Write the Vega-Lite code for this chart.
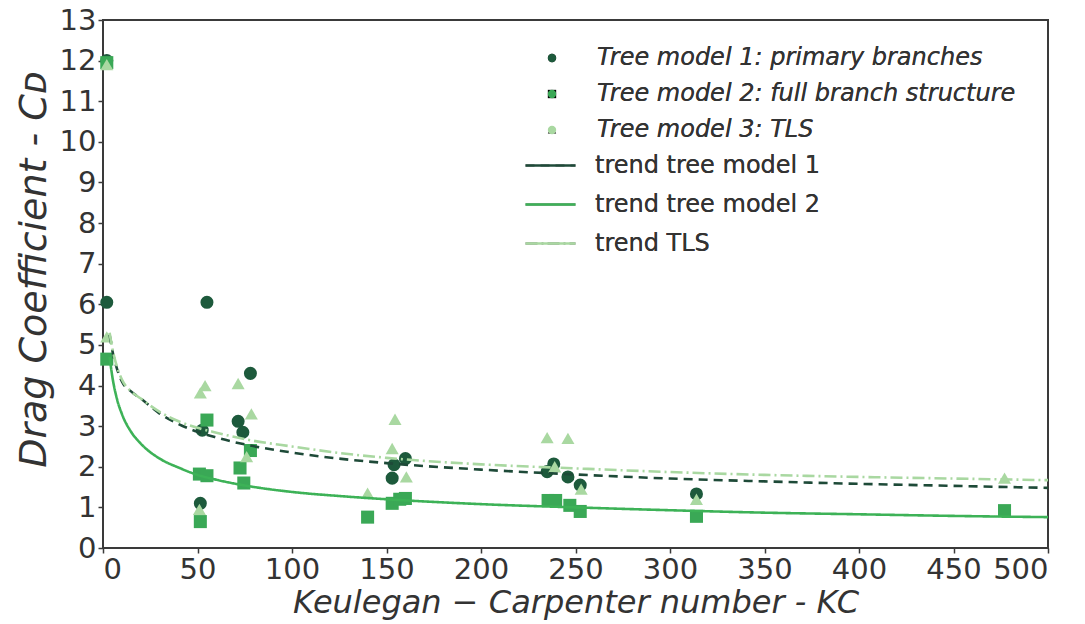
{
  "$schema": "https://vega.github.io/schema/vega-lite/v6.json",
  "width": 945,
  "height": 528,
  "autosize": "none",
  "padding": {"left": 103, "top": 20, "right": 37, "bottom": 76},
  "background": "white",
  "config": {
    "font": "DejaVu Sans",
    "view": {"stroke": "#3a3a3a", "strokeWidth": 2},
    "axis": {
      "grid": false,
      "domain": false,
      "tickColor": "#3a3a3a",
      "tickSize": 5,
      "tickWidth": 1.5,
      "labelFont": "DejaVu Sans",
      "labelFontSize": 29,
      "labelColor": "#333333",
      "titleFont": "DejaVu Sans",
      "titleFontStyle": "italic",
      "titleFontWeight": "normal",
      "titleColor": "#333333"
    },
    "legend": {
      "padding": 0,
      "labelFont": "DejaVu Sans",
      "labelFontSize": 24,
      "labelColor": "#333333",
      "labelLimit": 700,
      "rowPadding": 12
    }
  },
  "datasets": {
    "measured": [
      {"KC": 2, "CD": 12.0, "series": "Tree model 1: primary branches"},
      {"KC": 2, "CD": 6.05, "series": "Tree model 1: primary branches"},
      {"KC": 51.5, "CD": 1.1, "series": "Tree model 1: primary branches"},
      {"KC": 52.5, "CD": 2.9, "series": "Tree model 1: primary branches"},
      {"KC": 55, "CD": 6.05, "series": "Tree model 1: primary branches"},
      {"KC": 71.5, "CD": 3.12, "series": "Tree model 1: primary branches"},
      {"KC": 74, "CD": 2.85, "series": "Tree model 1: primary branches"},
      {"KC": 78, "CD": 4.3, "series": "Tree model 1: primary branches"},
      {"KC": 153, "CD": 1.72, "series": "Tree model 1: primary branches"},
      {"KC": 154, "CD": 2.05, "series": "Tree model 1: primary branches"},
      {"KC": 160, "CD": 2.2, "series": "Tree model 1: primary branches"},
      {"KC": 235, "CD": 1.88, "series": "Tree model 1: primary branches"},
      {"KC": 238.5, "CD": 2.07, "series": "Tree model 1: primary branches"},
      {"KC": 246, "CD": 1.75, "series": "Tree model 1: primary branches"},
      {"KC": 252.5, "CD": 1.55, "series": "Tree model 1: primary branches"},
      {"KC": 314, "CD": 1.33, "series": "Tree model 1: primary branches"},
      {"KC": 2, "CD": 11.95, "series": "Tree model 2: full branch structure"},
      {"KC": 2, "CD": 4.65, "series": "Tree model 2: full branch structure"},
      {"KC": 51.5, "CD": 0.65, "series": "Tree model 2: full branch structure"},
      {"KC": 51, "CD": 1.82, "series": "Tree model 2: full branch structure"},
      {"KC": 55, "CD": 1.78, "series": "Tree model 2: full branch structure"},
      {"KC": 55, "CD": 3.15, "series": "Tree model 2: full branch structure"},
      {"KC": 72.5, "CD": 1.97, "series": "Tree model 2: full branch structure"},
      {"KC": 74.5, "CD": 1.6, "series": "Tree model 2: full branch structure"},
      {"KC": 78, "CD": 2.4, "series": "Tree model 2: full branch structure"},
      {"KC": 140, "CD": 0.76, "series": "Tree model 2: full branch structure"},
      {"KC": 153, "CD": 1.1, "series": "Tree model 2: full branch structure"},
      {"KC": 157, "CD": 1.2, "series": "Tree model 2: full branch structure"},
      {"KC": 160, "CD": 1.22, "series": "Tree model 2: full branch structure"},
      {"KC": 235.5, "CD": 1.17, "series": "Tree model 2: full branch structure"},
      {"KC": 239.5, "CD": 1.17, "series": "Tree model 2: full branch structure"},
      {"KC": 247, "CD": 1.05, "series": "Tree model 2: full branch structure"},
      {"KC": 252.5, "CD": 0.9, "series": "Tree model 2: full branch structure"},
      {"KC": 314, "CD": 0.78, "series": "Tree model 2: full branch structure"},
      {"KC": 477, "CD": 0.92, "series": "Tree model 2: full branch structure"},
      {"KC": 2, "CD": 11.9, "series": "Tree model 3: TLS"},
      {"KC": 2, "CD": 5.2, "series": "Tree model 3: TLS"},
      {"KC": 51, "CD": 0.95, "series": "Tree model 3: TLS"},
      {"KC": 51.5, "CD": 3.82, "series": "Tree model 3: TLS"},
      {"KC": 54, "CD": 4.0, "series": "Tree model 3: TLS"},
      {"KC": 71.5, "CD": 4.05, "series": "Tree model 3: TLS"},
      {"KC": 76, "CD": 2.25, "series": "Tree model 3: TLS"},
      {"KC": 78.5, "CD": 3.3, "series": "Tree model 3: TLS"},
      {"KC": 140, "CD": 1.35, "series": "Tree model 3: TLS"},
      {"KC": 153, "CD": 2.45, "series": "Tree model 3: TLS"},
      {"KC": 154.5, "CD": 3.17, "series": "Tree model 3: TLS"},
      {"KC": 160.5, "CD": 1.75, "series": "Tree model 3: TLS"},
      {"KC": 235, "CD": 2.72, "series": "Tree model 3: TLS"},
      {"KC": 239, "CD": 2.0, "series": "Tree model 3: TLS"},
      {"KC": 246, "CD": 2.7, "series": "Tree model 3: TLS"},
      {"KC": 253, "CD": 1.45, "series": "Tree model 3: TLS"},
      {"KC": 314, "CD": 1.2, "series": "Tree model 3: TLS"},
      {"KC": 477, "CD": 1.72, "series": "Tree model 3: TLS"}
    ],
    "trends": [
      {"KC": 3.5, "CD": 5.25, "series": "trend tree model 1"},
      {"KC": 5, "CD": 4.85, "series": "trend tree model 1"},
      {"KC": 7.5, "CD": 4.4, "series": "trend tree model 1"},
      {"KC": 10, "CD": 4.1, "series": "trend tree model 1"},
      {"KC": 15, "CD": 3.85, "series": "trend tree model 1"},
      {"KC": 20, "CD": 3.68, "series": "trend tree model 1"},
      {"KC": 30, "CD": 3.31, "series": "trend tree model 1"},
      {"KC": 40, "CD": 3.05, "series": "trend tree model 1"},
      {"KC": 50, "CD": 2.86, "series": "trend tree model 1"},
      {"KC": 60, "CD": 2.72, "series": "trend tree model 1"},
      {"KC": 75, "CD": 2.55, "series": "trend tree model 1"},
      {"KC": 100, "CD": 2.35, "series": "trend tree model 1"},
      {"KC": 125, "CD": 2.2, "series": "trend tree model 1"},
      {"KC": 150, "CD": 2.09, "series": "trend tree model 1"},
      {"KC": 200, "CD": 1.93, "series": "trend tree model 1"},
      {"KC": 250, "CD": 1.81, "series": "trend tree model 1"},
      {"KC": 300, "CD": 1.71, "series": "trend tree model 1"},
      {"KC": 350, "CD": 1.64, "series": "trend tree model 1"},
      {"KC": 400, "CD": 1.58, "series": "trend tree model 1"},
      {"KC": 450, "CD": 1.53, "series": "trend tree model 1"},
      {"KC": 500, "CD": 1.48, "series": "trend tree model 1"},
      {"KC": 3.5, "CD": 4.7, "series": "trend tree model 2"},
      {"KC": 5, "CD": 4.2, "series": "trend tree model 2"},
      {"KC": 7.5, "CD": 3.65, "series": "trend tree model 2"},
      {"KC": 10, "CD": 3.3, "series": "trend tree model 2"},
      {"KC": 15, "CD": 2.85, "series": "trend tree model 2"},
      {"KC": 20, "CD": 2.57, "series": "trend tree model 2"},
      {"KC": 30, "CD": 2.2, "series": "trend tree model 2"},
      {"KC": 40, "CD": 1.98, "series": "trend tree model 2"},
      {"KC": 50, "CD": 1.8, "series": "trend tree model 2"},
      {"KC": 60, "CD": 1.68, "series": "trend tree model 2"},
      {"KC": 75, "CD": 1.54, "series": "trend tree model 2"},
      {"KC": 100, "CD": 1.38, "series": "trend tree model 2"},
      {"KC": 125, "CD": 1.28, "series": "trend tree model 2"},
      {"KC": 150, "CD": 1.2, "series": "trend tree model 2"},
      {"KC": 200, "CD": 1.08, "series": "trend tree model 2"},
      {"KC": 250, "CD": 1.0, "series": "trend tree model 2"},
      {"KC": 300, "CD": 0.93, "series": "trend tree model 2"},
      {"KC": 350, "CD": 0.87, "series": "trend tree model 2"},
      {"KC": 400, "CD": 0.83, "series": "trend tree model 2"},
      {"KC": 450, "CD": 0.79, "series": "trend tree model 2"},
      {"KC": 500, "CD": 0.76, "series": "trend tree model 2"},
      {"KC": 3.5, "CD": 5.3, "series": "trend TLS"},
      {"KC": 5, "CD": 4.9, "series": "trend TLS"},
      {"KC": 7.5, "CD": 4.45, "series": "trend TLS"},
      {"KC": 10, "CD": 4.15, "series": "trend TLS"},
      {"KC": 15, "CD": 3.85, "series": "trend TLS"},
      {"KC": 20, "CD": 3.68, "series": "trend TLS"},
      {"KC": 30, "CD": 3.35, "series": "trend TLS"},
      {"KC": 40, "CD": 3.12, "series": "trend TLS"},
      {"KC": 50, "CD": 2.96, "series": "trend TLS"},
      {"KC": 60, "CD": 2.84, "series": "trend TLS"},
      {"KC": 75, "CD": 2.68, "series": "trend TLS"},
      {"KC": 100, "CD": 2.5, "series": "trend TLS"},
      {"KC": 125, "CD": 2.34, "series": "trend TLS"},
      {"KC": 150, "CD": 2.22, "series": "trend TLS"},
      {"KC": 200, "CD": 2.06, "series": "trend TLS"},
      {"KC": 250, "CD": 1.96, "series": "trend TLS"},
      {"KC": 300, "CD": 1.87, "series": "trend TLS"},
      {"KC": 350, "CD": 1.8, "series": "trend TLS"},
      {"KC": 400, "CD": 1.75, "series": "trend TLS"},
      {"KC": 450, "CD": 1.71, "series": "trend TLS"},
      {"KC": 500, "CD": 1.67, "series": "trend TLS"}
    ]
  },
  "encoding": {
    "x": {
      "field": "KC",
      "type": "quantitative",
      "scale": {"domain": [0, 500], "nice": false, "zero": false},
      "axis": {
        "title": "Keulegan − Carpenter number - KC",
        "titleFontSize": 32,
        "values": [0, 50, 100, 150, 200, 250, 300, 350, 400, 450, 500],
        "labelPadding": 2,
        "titlePadding": 3
      }
    },
    "y": {
      "field": "CD",
      "type": "quantitative",
      "scale": {"domain": [0, 13], "nice": false, "zero": false},
      "axis": {
        "title": "Drag Coefficient - Cᴅ",
        "titleFontSize": 38,
        "titleY": 249,
        "values": [0, 1, 2, 3, 4, 5, 6, 7, 8, 9, 10, 11, 12, 13],
        "labelPadding": 2,
        "titlePadding": 6
      }
    }
  },
  "layer": [
    {
      "data": {"name": "measured"},
      "mark": {"type": "point", "filled": true, "opacity": 1, "size": 170},
      "encoding": {
        "color": {
          "field": "series",
          "type": "nominal",
          "scale": {
            "domain": [
              "Tree model 1: primary branches",
              "Tree model 2: full branch structure",
              "Tree model 3: TLS"
            ],
            "range": ["#1d5a3c", "#3aa856", "#a9d8a1"]
          },
          "legend": {
            "title": null,
            "orient": "none",
            "legendX": 437,
            "legendY": 26,
            "symbolSize": 70,
            "labelOffset": 33,
            "labelFontStyle": "italic"
          }
        },
        "shape": {
          "field": "series",
          "type": "nominal",
          "scale": {
            "domain": [
              "Tree model 1: primary branches",
              "Tree model 2: full branch structure",
              "Tree model 3: TLS"
            ],
            "range": ["circle", "square", "triangle-up"]
          },
          "legend": {
            "title": null,
            "orient": "none",
            "legendX": 437,
            "legendY": 26,
            "symbolSize": 70,
            "labelOffset": 33,
            "labelFontStyle": "italic"
          }
        }
      }
    },
    {
      "data": {"name": "trends"},
      "mark": {"type": "line", "strokeWidth": 2.6, "interpolate": "monotone"},
      "encoding": {
        "color": {
          "field": "series",
          "type": "nominal",
          "scale": {
            "domain": ["trend tree model 1", "trend tree model 2", "trend TLS"],
            "range": ["#1e4a38", "#3db257", "#a9d8a1"]
          },
          "legend": {
            "title": null,
            "orient": "none",
            "legendX": 421,
            "legendY": 119,
            "symbolSize": 2500,
            "symbolStrokeWidth": 2.6,
            "labelOffset": 18,
            "rowPadding": -2
          }
        },
        "strokeDash": {
          "field": "series",
          "type": "nominal",
          "scale": {
            "domain": ["trend tree model 1", "trend tree model 2", "trend TLS"],
            "range": [[9, 6], [1, 0], [12, 4, 2, 4]]
          },
          "legend": {
            "title": null,
            "orient": "none",
            "legendX": 421,
            "legendY": 119,
            "symbolSize": 2500,
            "symbolStrokeWidth": 2.6,
            "labelOffset": 18,
            "rowPadding": -2
          }
        }
      }
    }
  ],
  "resolve": {
    "scale": {"color": "independent"},
    "legend": {"color": "independent"}
  }
}
